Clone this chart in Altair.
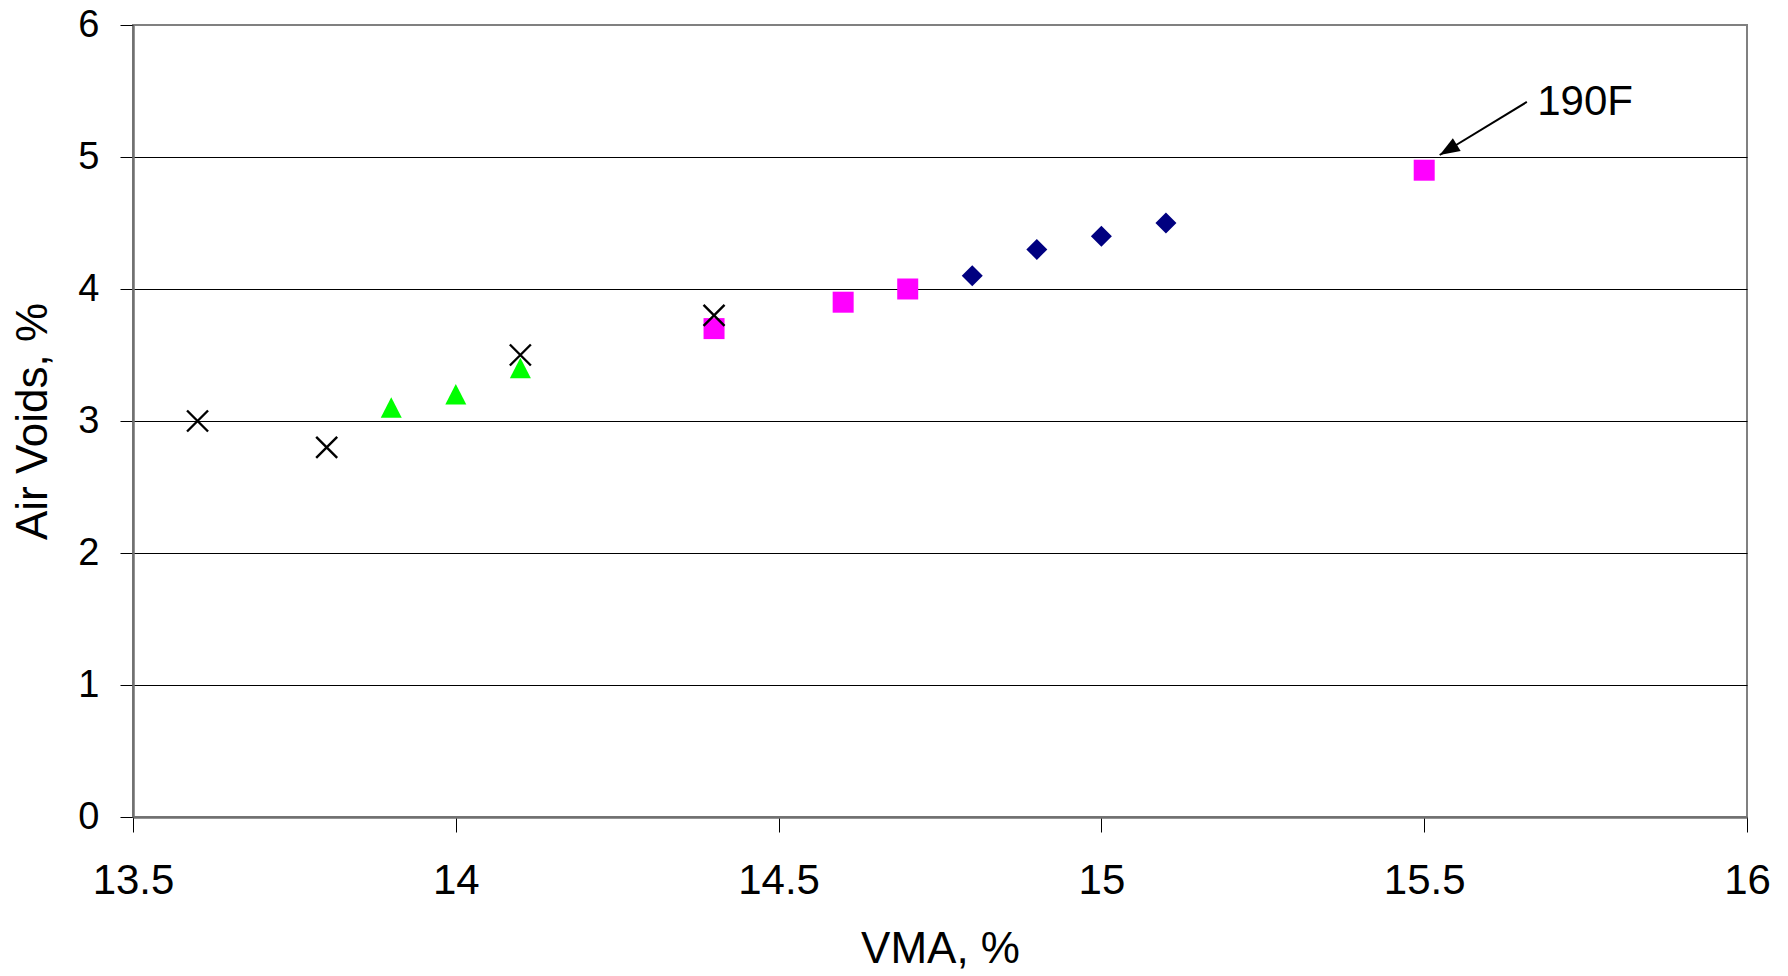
import altair as alt
import pandas as pd

# Series data
diamond_vma = [14.8, 14.9, 15.0, 15.1]
diamond_av = [4.1, 4.3, 4.4, 4.5]

square_vma = [14.4, 14.6, 14.7, 15.5]
square_av = [3.7, 3.9, 4.0, 4.9]

cross_vma = [13.6, 13.8, 14.1, 14.4]
cross_av = [3.0, 2.8, 3.5, 3.8]

tri_vma = [13.9, 14.0, 14.1]
tri_av = [3.1, 3.2, 3.4]

x_ticks = [13.5, 14, 14.5, 15, 15.5, 16]
y_ticks = [0, 1, 2, 3, 4, 5, 6]

# annotation "190F" with arrow
ann_text = ["190F"]
ann_text_vma = [15.675]
ann_text_av = [5.318]
arrow_start_vma = [15.659]
arrow_start_av = [5.417]
arrow_tip_vma = [15.524]
arrow_tip_av = [5.015]

x_scale = alt.Scale(domain=[13.5, 16], nice=False, zero=False)
y_scale = alt.Scale(domain=[0, 6], nice=False)

x_axis = alt.Axis(
    title="VMA, %", values=x_ticks, format="~g", grid=False,
    labelFontSize=42, labelPadding=28, tickSize=15, tickColor="black",
    titleFontSize=44, titlePadding=26, titleFontWeight="normal",
    labelFlush=False, labelOverlap=False,
)
y_axis = alt.Axis(
    title="Air Voids, %", values=y_ticks, format="~g", grid=True,
    gridColor={"condition": {"test": "datum.value >= 6 || datum.value <= 0", "value": "#808080"}, "value": "black"},
    gridWidth=1.2,
    labelFontSize=38, labelPadding=21, tickSize=13, tickColor="black",
    titleFontSize=44, titlePadding=22, titleFontWeight="normal",
    labelFlush=False, labelOverlap=False,
)

X = alt.X("vma:Q", scale=x_scale, axis=x_axis)
Y = alt.Y("av:Q", scale=y_scale, axis=y_axis)

def df(xs, ys):
    return pd.DataFrame({"vma": xs, "av": ys})

diamonds = alt.Chart(df(diamond_vma, diamond_av)).mark_point(
    shape="diamond", filled=True, size=441, color="#000080", opacity=1
).encode(x=X, y=Y)

squares = alt.Chart(df(square_vma, square_av)).mark_point(
    shape="square", filled=True, size=441, color="#FF00FF", opacity=1
).encode(x=X, y=Y)

crosses = alt.Chart(df(cross_vma, cross_av)).mark_point(
    shape="M-1,-1L1,1M-1,1L1,-1", filled=False, size=441, color="black",
    strokeWidth=2.4, opacity=1
).encode(x=X, y=Y)

triangles = alt.Chart(df(tri_vma, tri_av)).mark_point(
    shape="M0,-1L1,0.95L-1,0.95Z", filled=True, size=441, color="#00FF00", opacity=1
).encode(x=X, y=Y)

arrow_df = pd.DataFrame({
    "vma": arrow_start_vma, "av": arrow_start_av,
    "vma2": arrow_tip_vma, "av2": arrow_tip_av,
})
arrow_line = alt.Chart(arrow_df).mark_rule(color="black", strokeWidth=2).encode(
    x=X, y=Y, x2="vma2:Q", y2="av2:Q"
)
arrow_head = alt.Chart(df(arrow_tip_vma, arrow_tip_av)).mark_point(
    shape="M0,0L-0.75,2L0.75,2Z", filled=True, size=400, angle=238.6,
    color="black", opacity=1
).encode(x=X, y=Y)

label_df = pd.DataFrame({"vma": ann_text_vma, "av": ann_text_av, "t": ann_text})
label = alt.Chart(label_df).mark_text(
    align="left", baseline="alphabetic", fontSize=42, color="black",
    font="Liberation Sans"
).encode(x=X, y=Y, text="t:N")

chart = alt.layer(
    diamonds, squares, crosses, triangles, arrow_line, arrow_head, label
).properties(
    width=1614, height=792,
    autosize="none",
    padding={"left": 133, "top": 25, "right": 41, "bottom": 159},
    background="white",
).configure_view(
    stroke="#808080", strokeWidth=2
).configure_axis(
    labelFont="Liberation Sans", titleFont="Liberation Sans",
    labelColor="black", titleColor="black",
    domainColor="#707070", domainWidth=2.5,
)

chart.save("out.html", embed_options={"renderer": "svg", "actions": False})
